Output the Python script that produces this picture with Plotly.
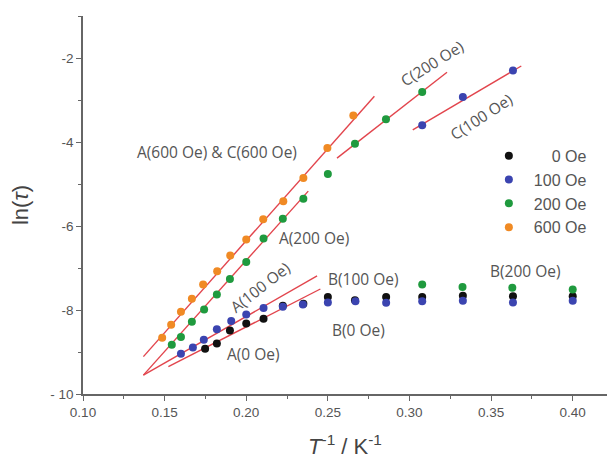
import plotly.graph_objects as go

# ---- data ----
x_600 = [0.1485, 0.154, 0.160, 0.1667, 0.1736, 0.1822, 0.1902, 0.200, 0.2104, 0.2227, 0.235, 0.2497, 0.2656]
y_600 = [-8.66, -8.35, -8.04, -7.73, -7.39, -7.08, -6.70, -6.32, -5.84, -5.41, -4.86, -4.14, -3.37]

x_200 = [0.1544, 0.160, 0.1667, 0.1742, 0.182, 0.190, 0.200, 0.2106, 0.2224, 0.235, 0.250, 0.2666, 0.2856, 0.3078, 0.3078, 0.3325, 0.363, 0.400]
y_200 = [-8.83, -8.64, -8.28, -7.99, -7.63, -7.26, -6.86, -6.30, -5.83, -5.35, -4.76, -4.04, -3.46, -2.81, -7.39, -7.45, -7.47, -7.51]

x_0 = [0.1748, 0.182, 0.190, 0.200, 0.2106, 0.2224, 0.235, 0.250, 0.2666, 0.2857, 0.3078, 0.3327, 0.3634, 0.400]
y_0 = [-8.92, -8.80, -8.49, -8.32, -8.21, -7.90, -7.85, -7.69, -7.77, -7.69, -7.69, -7.66, -7.67, -7.67]

x_100 = [0.160, 0.1673, 0.174, 0.182, 0.1908, 0.200, 0.2106, 0.2224, 0.2347, 0.250, 0.2669, 0.2857, 0.3078, 0.3327, 0.3634, 0.400, 0.3078, 0.3327, 0.3634]
y_100 = [-9.04, -8.89, -8.71, -8.46, -8.26, -8.11, -7.95, -7.92, -7.87, -7.82, -7.79, -7.83, -7.79, -7.78, -7.82, -7.78, -3.60, -2.93, -2.30]

series_names = ["\u2007\u20070 Oe", "100 Oe", "200 Oe", "600 Oe"]
series_colors = ["#111111", "#3b44b0", "#1f9a3e", "#f08a24"]

# fitted lines (start/end points)
fit_x = [[0.137, 0.2785], [0.137, 0.238], [0.2556, 0.3230], [0.302, 0.3685], [0.137, 0.2434], [0.1523, 0.2454]]
fit_y = [[-9.11, -2.91], [-9.55, -5.17], [-4.385, -2.34], [-3.71, -2.19], [-9.55, -7.19], [-9.35, -7.50]]

labels = ["A(600 Oe) & C(600 Oe)", "C(200 Oe)", "C(100 Oe)", "A(200 Oe)", "A(100 Oe)",
          "B(100 Oe)", "B(0 Oe)", "A(0 Oe)", "B(200 Oe)"]
label_x = [0.182, 0.314, 0.3436, 0.2413, 0.2086, 0.2720, 0.2689, 0.2045, 0.3712]
label_y = [-4.24, -2.13, -3.40, -6.28, -7.46, -7.27, -8.47, -9.04, -7.07]
label_angle = [0, -32, -33, 0, -38, 0, 0, 0, 0]

xticks = [0.10, 0.15, 0.20, 0.25, 0.30, 0.35, 0.40]
xticktext = ["0.10", "0.15", "0.20", "0.25", "0.30", "0.35", "0.40"]
yticks = [-2, -4, -6, -8, -10]
yticktext = ["-2", "-4", "-6", "-8", "- 10"]

fig = go.Figure()

for fx, fy in zip(fit_x, fit_y):
    fig.add_trace(go.Scatter(x=fx, y=fy, mode="lines", line=dict(color="#e2454d", width=1.4),
                             showlegend=False, hoverinfo="skip"))

for xs, ys, nm, col in [(x_0, y_0, series_names[0], series_colors[0]),
                        (x_100, y_100, series_names[1], series_colors[1]),
                        (x_200, y_200, series_names[2], series_colors[2]),
                        (x_600, y_600, series_names[3], series_colors[3])]:
    fig.add_trace(go.Scatter(x=xs, y=ys, mode="markers", name=nm,
                             marker=dict(color=col, size=8, line=dict(width=0))))

for t, lx, ly, ang in zip(labels, label_x, label_y, label_angle):
    fig.add_annotation(x=lx, y=ly, text=t, showarrow=False, textangle=ang,
                       font=dict(family="Open Sans", size=15.5, color="#555555"))

fig.update_layout(
    width=607, height=459,
    margin=dict(l=83, r=0, t=16, b=65),
    paper_bgcolor="white", plot_bgcolor="white",
    font=dict(family="Liberation Sans, Arial", color="#555555"),
    legend=dict(x=0.765, y=0.675, xanchor="left", yanchor="top",
                font=dict(family="Liberation Sans, Arial", size=16, color="#555555"),
                bgcolor="rgba(0,0,0,0)", itemwidth=40, tracegroupgap=0),
    xaxis=dict(range=[0.10, 0.421], showgrid=False, zeroline=False,
               showline=True, linecolor="#666666", linewidth=1.5,
               ticks="outside", ticklen=5, tickcolor="#666666", tickwidth=1.2,
               tickvals=xticks, ticktext=xticktext,
               tickfont=dict(family="Liberation Sans, Arial", size=13.5, color="#555555"),
               minor=dict(ticks="outside", ticklen=3, tickcolor="#666666", tick0=0.125, dtick=0.05),
               title=dict(text="<i>T</i><sup>-1</sup> / K<sup>-1</sup>", standoff=24,
                          font=dict(family="Liberation Sans, Arial", size=22, color="#444444"))),
    yaxis=dict(range=[-10, -1], showgrid=False, zeroline=False,
               showline=True, linecolor="#666666", linewidth=1.5,
               ticks="outside", ticklen=5, tickcolor="#666666", tickwidth=1.2,
               tickvals=yticks, ticktext=yticktext,
               tickfont=dict(family="Liberation Sans, Arial", size=13.5, color="#555555"),
               minor=dict(ticks="outside", ticklen=3, tickcolor="#666666", tick0=-9, dtick=2),
               title=dict(text="ln(<i>τ</i>)", standoff=16,
                          font=dict(family="Liberation Sans, Arial", size=22, color="#444444"))),
)

fig.write_html("out.html", config={"displayModeBar": False},
               post_script="document.body.style.margin='0';document.body.style.overflow='hidden';")
